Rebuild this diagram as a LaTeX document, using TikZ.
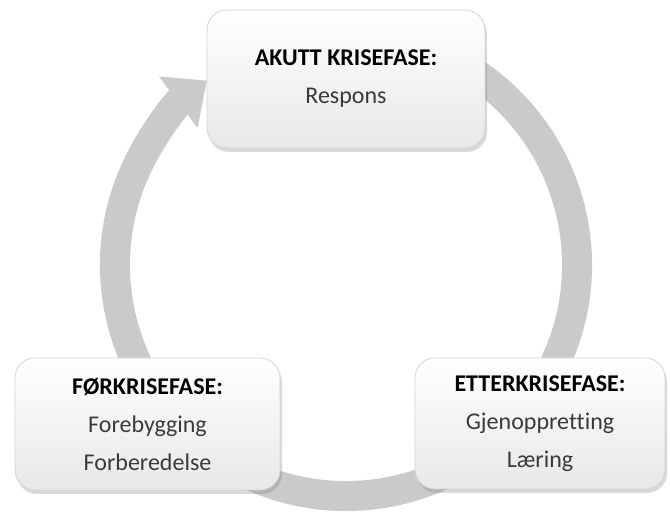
\documentclass[tikz,border=0pt]{standalone}
\usepackage{fontspec}
\setmainfont{Carlito}[Ligatures=NoCommon]
\usetikzlibrary{arrows.meta,shadows}
\definecolor{ringgray}{RGB}{202,202,202}
\definecolor{boxline}{RGB}{212,212,212}
\definecolor{phasetext}{RGB}{58,58,58}
\begin{document}
\begin{tikzpicture}[x=1pt,y=1pt,
    phase/.style={draw=boxline, line width=0.8pt, rounded corners=20pt,
      top color=white, bottom color=black!9,
      drop shadow={shadow xshift=2pt, shadow yshift=-4pt, opacity=0.3},
      align=center, text=phasetext, inner sep=0pt,
      font=\fontsize{24}{38}\selectfont},
    ring/.style={draw=ringgray, line width=30pt, -{Triangle[width=62pt,length=36pt]}}]
    \useasboundingbox (0,0) rectangle (670,514);
    \coordinate (c) at (346,249);
    % the cycle runs clockwise behind the three phases
    \draw[ring] ([shift={(65:231)}]c) arc[start angle=65, end angle=-233, radius=231];
    \node[phase, minimum width=278pt, minimum height=138pt] (akutt) at (346,435)
      {\textcolor{black}{\textbf{AKUTT KRISEFASE:}}\\Respons};
    \node[phase, minimum width=265pt, minimum height=132pt] (for) at (147.5,90)
      {\textcolor{black}{\textbf{FØRKRISEFASE:}}\\Forebygging\\Forberedelse};
    \node[phase, minimum width=250pt, minimum height=131pt] (etter) at (540,90.5)
      {\textcolor{black}{\textbf{ETTERKRISEFASE:}}\\Gjenoppretting\\Læring};
\end{tikzpicture}
\end{document}
